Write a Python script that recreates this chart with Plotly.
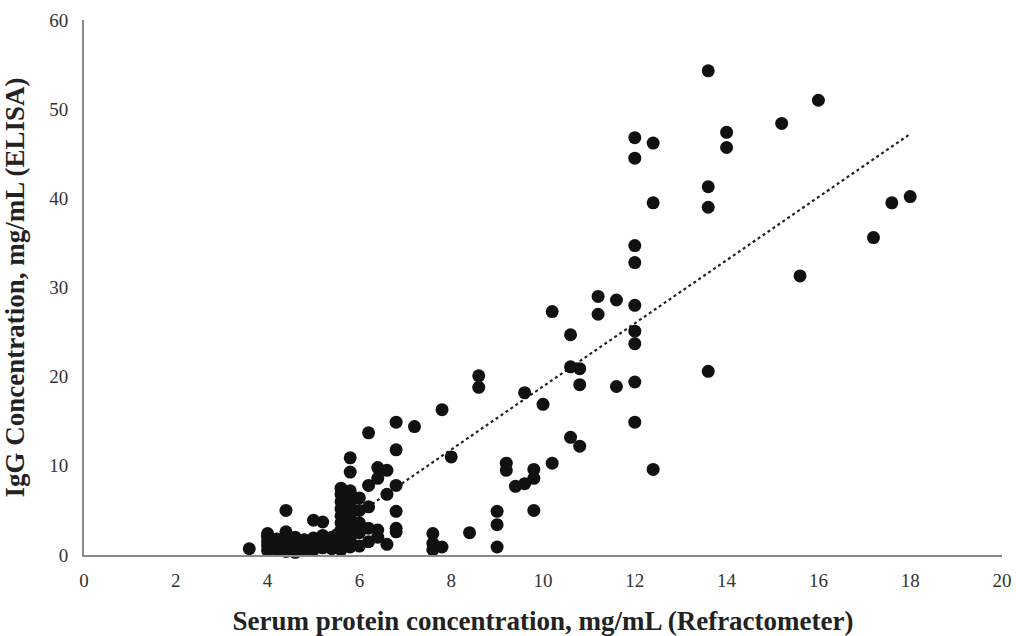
import plotly.graph_objects as go
import numpy as np

# Serum protein (refractometer), mg/mL
serum_x = [
    13.6, 16.0, 15.2, 14.0, 12.0, 12.4, 14.0, 12.0, 13.6, 18.0, 12.4, 17.6, 13.6, 17.2,
    12.0, 12.0, 15.6, 11.2, 11.6, 12.0, 10.2, 11.2, 12.0, 10.6, 12.0, 10.6, 10.8, 13.6,
    8.6, 12.0, 10.8, 11.6, 8.6, 9.6, 10.0, 7.8, 12.0, 6.8, 7.2, 6.2, 10.6, 10.8, 6.8,
    8.0, 5.8, 9.2, 10.2, 6.4, 12.4, 9.8, 9.2, 6.6, 5.8, 9.8, 6.4, 9.6, 9.4,
    9.8, 9.0, 9.0, 9.0, 8.4, 7.6, 7.6, 7.8, 7.6,
    4.0, 4.0, 4.0, 4.0, 4.0,
    4.2, 4.2, 4.2,
    4.4, 4.4, 4.4, 4.4, 4.4,
    4.6, 4.6, 4.6, 4.6,
    4.8, 4.8, 4.8,
    5.0, 5.0, 5.0, 5.0,
    5.2, 5.2, 5.2, 5.2,
    5.4, 5.4, 5.4,
    5.6, 5.6, 5.6, 5.6, 5.6, 5.6, 5.6, 5.6, 5.6, 5.6,
    5.8, 5.8, 5.8, 5.8, 5.8, 5.8, 5.8, 5.8, 5.8,
    6.0, 6.0, 6.0, 6.0, 6.0,
    6.2, 6.2, 6.2, 6.2,
    6.4, 6.4,
    6.6, 6.6,
    6.8, 6.8, 6.8, 6.8,
    3.6,
]
# IgG concentration (ELISA), mg/mL
igg_y = [
    54.3, 51.0, 48.4, 47.4, 46.8, 46.2, 45.7, 44.5, 41.3, 40.2, 39.5, 39.5, 39.0, 35.6,
    34.7, 32.8, 31.3, 29.0, 28.6, 28.0, 27.3, 27.0, 25.1, 24.7, 23.7, 21.1, 20.9, 20.6,
    20.1, 19.4, 19.1, 18.9, 18.8, 18.2, 16.9, 16.3, 14.9, 14.9, 14.4, 13.7, 13.2, 12.2, 11.8,
    11.0, 10.9, 10.3, 10.3, 9.8, 9.6, 9.6, 9.5, 9.5, 9.3, 8.6, 8.6, 8.0, 7.7,
    5.0, 4.9, 3.4, 0.9, 2.5, 2.4, 1.3, 0.9, 0.6,
    0.5, 1.0, 1.5, 2.0, 2.4,
    0.6, 1.2, 1.8,
    0.4, 0.9, 1.5, 2.6, 5.0,
    0.3, 0.8, 1.3, 2.0,
    0.5, 1.0, 1.7,
    0.6, 1.2, 1.9, 3.9,
    0.8, 1.5, 2.2, 3.7,
    0.7, 1.3, 2.0,
    0.6, 1.2, 2.0, 2.8, 3.6, 4.4, 5.2, 6.0, 6.8, 7.5,
    0.9, 1.8, 2.6, 3.4, 4.2, 5.0, 5.8, 6.6, 7.2,
    1.0, 2.5, 3.6, 5.0, 6.4,
    1.5, 3.0, 5.4, 7.8,
    2.0, 2.8,
    1.2, 6.8,
    2.6, 3.0, 4.9, 7.8,
    0.7,
]

# Linear trendline
trend_slope = 3.54
trend_intercept = -16.5
trend_x_max = 18.0

x_ticks = [0, 2, 4, 6, 8, 10, 12, 14, 16, 18, 20]
y_ticks = [0, 10, 20, 30, 40, 50, 60]

x0 = -trend_intercept / trend_slope
tx = np.linspace(x0, trend_x_max, 60)
ty = trend_slope * tx + trend_intercept

fig = go.Figure()
fig.add_trace(go.Scatter(
    x=tx, y=ty, mode="lines",
    line=dict(color="#222", width=2.2, dash="dot"),
    hoverinfo="skip", showlegend=False,
))
fig.add_trace(go.Scatter(
    x=serum_x, y=igg_y, mode="markers",
    marker=dict(size=13, color="#111111", line=dict(width=0)),
    showlegend=False, cliponaxis=False,
))

font_family = "Liberation Serif, Times New Roman, serif"
fig.update_layout(
    width=1016, height=636,
    margin=dict(l=84, r=14, t=20, b=81),
    paper_bgcolor="white", plot_bgcolor="white",
    font=dict(family=font_family, color="#333"),
    xaxis=dict(
        range=[0, 20], tickvals=x_ticks, showgrid=False, zeroline=False,
        showline=True, linecolor="#8a8a8a", linewidth=2, automargin=False,
        ticks="outside", ticklen=7, tickcolor="rgba(0,0,0,0)",
        tickfont=dict(size=19, family=font_family, color="#333"),
        title=dict(text="<b>Serum protein concentration, mg/mL (Refractometer)</b>",
                   font=dict(size=27, family=font_family, color="#222"), standoff=27),
    ),
    yaxis=dict(
        range=[0, 60], tickvals=y_ticks, showgrid=False, zeroline=False,
        showline=True, linecolor="#8a8a8a", linewidth=2, automargin=False,
        ticks="outside", ticklen=10, tickcolor="rgba(0,0,0,0)",
        tickfont=dict(size=19, family=font_family, color="#333"),
        title=dict(text="<b>IgG Concentration, mg/mL (ELISA)</b>",
                   font=dict(size=27, family=font_family, color="#222"), standoff=30),
    ),
)

fig.write_html(
    "out.html",
    config={"displayModeBar": False},
    post_script="document.body.style.margin='0';document.body.style.overflow='hidden';",
)
